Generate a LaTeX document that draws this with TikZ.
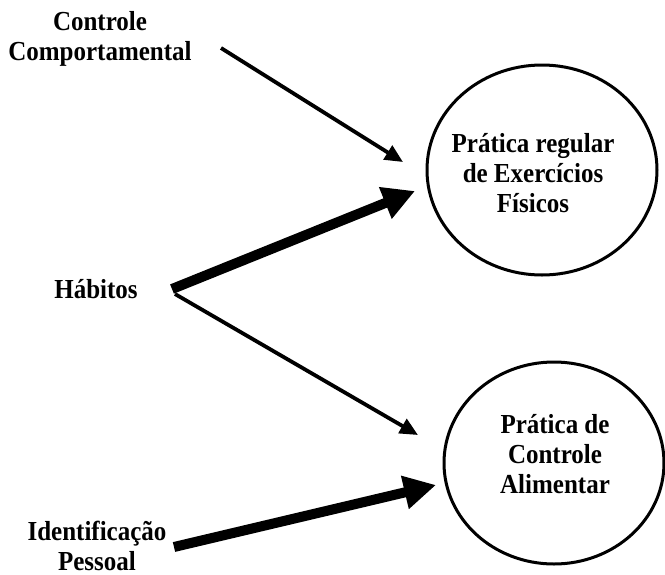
\documentclass[tikz,border=0pt]{standalone}
\usepackage{fontspec}
\setmainfont{Liberation Serif}
\usetikzlibrary{arrows.meta,shapes.geometric}
\begin{document}
\begin{tikzpicture}[x=1pt,y=-1pt,
  lbl/.style={font=\bfseries\fontsize{25}{27}\selectfont, align=center, inner sep=0pt,
    yscale=1.1, transform shape},
  goal/.style={draw, ellipse, line width=3pt, inner sep=0pt},
  thinarrow/.style={line width=3.8pt, -{Triangle[length=18pt,width=16pt]}},
  thickarrow/.style={line width=10pt, -{Triangle[length=32pt,width=32pt]}},
]
\useasboundingbox (0,0) rectangle (665,574);

% outcome ellipses
\node[goal, minimum width=230pt, minimum height=210pt] (ex) at (542,170) {};
\node[goal, minimum width=220pt, minimum height=202pt] (al) at (554,463) {};

% labels
\node[lbl] (cc) at (100,39) {Controle\\Comportamental};
\node[lbl] (hab) at (96,289) {Hábitos};
\node[lbl] (idp) at (97,546) {Identificação\\Pessoal};
\node[lbl] (exl) at (533,173) {Prática regular\\de Exercícios\\Físicos};
\node[lbl] (all) at (555,454) {Prática de\\Controle\\Alimentar};

% connector end points
\coordinate (cc-o) at (221,48);
\coordinate (ex-i1) at (403,162);
\coordinate (hab-o1) at (172,289);
\coordinate (ex-i2) at (415,191);
\coordinate (hab-o2) at (175,294);
\coordinate (al-i1) at (418,435);
\coordinate (idp-o) at (174,547);
\coordinate (al-i2) at (436,485);

% influences
\draw[thinarrow] (cc-o) -- (ex-i1);
\draw[thinarrow] (hab-o2) -- (al-i1);
\draw[thickarrow] (hab-o1) -- (ex-i2);
\draw[thickarrow] (idp-o) -- (al-i2);
\end{tikzpicture}
\end{document}
